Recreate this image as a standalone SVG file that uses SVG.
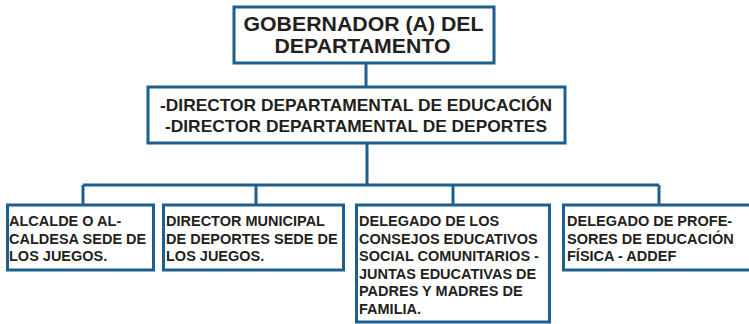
<svg xmlns="http://www.w3.org/2000/svg" width="749" height="324" viewBox="0 0 749 324">
<style>
.box{fill:#fff;stroke:#1d5f8f;stroke-width:3}
.con{fill:none;stroke:#1d5f8f;stroke-width:3}
text{font-family:"Liberation Sans",Arial,sans-serif;font-weight:bold;fill:#231f20}
.t1{font-size:20.5px;text-anchor:middle}
.t2{font-size:16.5px;text-anchor:middle}
.t3{font-size:14.5px}
</style>
<rect width="749" height="324" fill="#fff"/>
<g id="connectors">
<path class="con" d="M366 63V87"/>
<path class="con" d="M367 143V185"/>
<path class="con" d="M83 185H659"/>
<path class="con" d="M83 185V205M256 185V205M453 185V205M659 185V205"/>
</g>
<g id="gobernador">
<rect class="box" x="234" y="7" width="260" height="56"/>
<text class="t1" x="363.5" y="31" textLength="240" lengthAdjust="spacingAndGlyphs">GOBERNADOR (A) DEL</text>
<text class="t1" x="362.5" y="53" textLength="176" lengthAdjust="spacingAndGlyphs">DEPARTAMENTO</text>
</g>
<g id="directores">
<rect class="box" x="148" y="87" width="417" height="56"/>
<text class="t2" x="356" y="111" textLength="392" lengthAdjust="spacingAndGlyphs">-DIRECTOR DEPARTAMENTAL DE EDUCACIÓN</text>
<text class="t2" x="356" y="132" textLength="382" lengthAdjust="spacingAndGlyphs">-DIRECTOR DEPARTAMENTAL DE DEPORTES</text>
</g>
<g id="alcalde">
<rect class="box" x="7.5" y="205" width="146" height="65"/>
<text class="t3" x="9" y="226">ALCALDE O AL-</text>
<text class="t3" x="9" y="243.5">CALDESA SEDE DE</text>
<text class="t3" x="9" y="261">LOS JUEGOS.</text>
</g>
<g id="director-municipal">
<rect class="box" x="163.5" y="205" width="180" height="65"/>
<text class="t3" x="166" y="226">DIRECTOR MUNICIPAL</text>
<text class="t3" x="166" y="243.5">DE DEPORTES SEDE DE</text>
<text class="t3" x="166" y="261">LOS JUEGOS.</text>
</g>
<g id="delegado-consejos">
<rect class="box" x="356.5" y="205" width="193" height="117"/>
<text class="t3" x="359" y="226">DELEGADO DE LOS</text>
<text class="t3" x="359" y="243.5">CONSEJOS EDUCATIVOS</text>
<text class="t3" x="359" y="261">SOCIAL COMUNITARIOS -</text>
<text class="t3" x="359" y="278.5">JUNTAS EDUCATIVAS DE</text>
<text class="t3" x="359" y="296">PADRES Y MADRES DE</text>
<text class="t3" x="359" y="313.5">FAMILIA.</text>
</g>
<g id="delegado-profesores">
<rect class="box" x="563.5" y="205" width="190" height="65"/>
<text class="t3" x="567" y="226">DELEGADO DE PROFE-</text>
<text class="t3" x="567" y="243.5">SORES DE EDUCACIÓN</text>
<text class="t3" x="567" y="261">FÍSICA - ADDEF</text>
</g>
</svg>
